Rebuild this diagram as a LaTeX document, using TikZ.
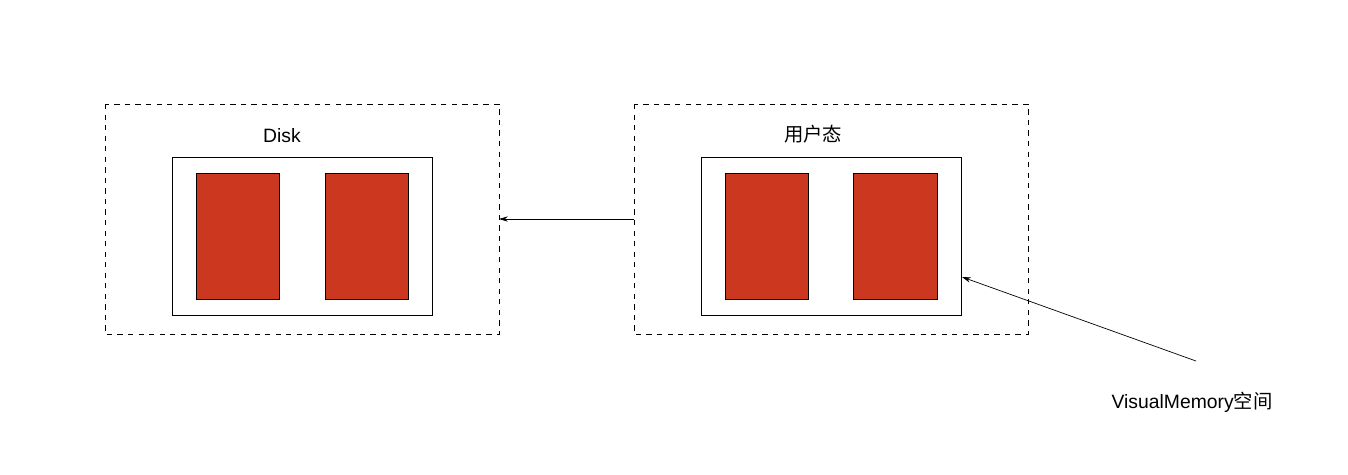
\documentclass[tikz,border=0pt]{standalone}
\usepackage{fontspec}
\setmainfont{Liberation Sans}
\newfontfamily\cjk{Noto Sans CJK SC}
\usetikzlibrary{arrows.meta,positioning}
\definecolor{blockred}{HTML}{CC3720}
\begin{document}
\begin{tikzpicture}[x=0.02cm,y=-0.02cm,
  zone/.style={draw,dashed,thin},
  frame/.style={draw,thin,fill=white},
  block/.style={draw,thin,fill=blockred},
  link/.style={thin,-{Stealth[length=5pt,width=3pt]}},
  lbl/.style={font=\fontsize{11}{13}\selectfont}]
		\useasboundingbox (0,0) rectangle (1348,474);

		% Disk side
		\draw[zone] (105,104) rectangle (499,334);
		\node[lbl] (disk) at (282,136) {Disk};
		\draw[frame] (172,157) rectangle (432,315);
		\draw[block] (196,173) rectangle (279,299);
		\draw[block] (325,173) rectangle (408,299);

		% User side
		\draw[zone] (634,104) rectangle (1028,334);
		\node[lbl] (user) at (813,134) {\cjk 用户态};
		\draw[frame] (701,157) rectangle (961,315);
		\draw[block] (725,173) rectangle (808,299);
		\draw[block] (853,173) rectangle (937,299);

		% Connectors
		\coordinate (dright) at (499,219);
		\coordinate (uleft) at (634,219);
		\coordinate (uframe) at (962,277);
		\coordinate (vtail) at (1196,361);
		\draw[link,{Stealth[length=5pt,width=3pt]}-] (dright) -- (uleft);
		\draw[link] (vtail) -- (uframe);
		\node[lbl] (vm) at (1192,402) {VisualMemory{\cjk 空间}};
	\end{tikzpicture}
\end{document}
